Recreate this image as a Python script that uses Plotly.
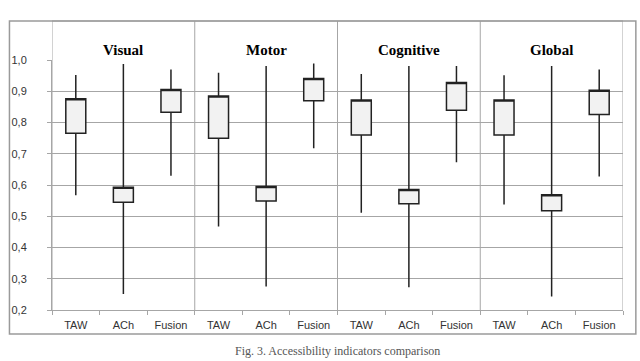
import plotly.graph_objects as go

groups = ["Visual", "Motor", "Cognitive", "Global"]
methods = ["TAW", "ACh", "Fusion"]

# high / box top / box bottom / low (group by group)
high = [0.952, 0.987, 0.970,  0.959, 0.981, 0.989,  0.955, 0.981, 0.981,  0.951, 0.981, 0.970]
box_top = [0.876, 0.593, 0.906,  0.885, 0.595, 0.941,  0.872, 0.586, 0.928,  0.872, 0.569, 0.903]
box_bottom = [0.766, 0.545, 0.833,  0.750, 0.549, 0.870,  0.760, 0.540, 0.839,  0.760, 0.518, 0.826]
low = [0.567, 0.251, 0.630,  0.467, 0.275, 0.718,  0.511, 0.273, 0.673,  0.538, 0.243, 0.627]

y_ticks = [0.2, 0.3, 0.4, 0.5, 0.6, 0.7, 0.8, 0.9, 1.0]
caption = "Fig. 3. Accessibility indicators comparison"

x_pos = list(range(len(groups) * len(methods)))
x_labels = methods * len(groups)

fig = go.Figure()
fig.add_trace(go.Box(
    x=x_pos,
    q1=box_bottom,
    median=box_top,
    q3=box_top,
    lowerfence=low,
    upperfence=high,
    width=0.42,
    whiskerwidth=0,
    fillcolor="#f2f2f2",
    line=dict(color="#222222", width=1.5),
    showlegend=False,
    hoverinfo="skip",
))

grid = "#a6a6a6"
shapes = []
n = len(methods)
# header strip + panel separators
for g in range(len(groups) + 1):
    xv = g * n - 0.5
    shapes.append(dict(type="line", xref="x", yref="paper", x0=xv, x1=xv, y0=0, y1=1.156,
                       line=dict(color=grid, width=1)))
shapes.append(dict(type="line", xref="paper", yref="paper", x0=0, x1=1, y0=1.156, y1=1.156,
                   line=dict(color=grid, width=1)))
# outer frame
shapes.append(dict(type="rect", xref="paper", yref="paper", x0=-0.0745, x1=1.0225, y0=-0.096, y1=1.156,
                   line=dict(color="#9a9a9a", width=1.5)))

annotations = []
for g, name in enumerate(groups):
    annotations.append(dict(x=g * n + 1, y=1.08, xref="x", yref="paper", text=f"<b>{name}</b>",
                            showarrow=False, font=dict(family="Liberation Serif", size=15, color="#000")))
annotations.append(dict(x=0.5, y=-0.2, xref="paper", yref="paper", text=caption, yanchor="bottom",
                        showarrow=False, font=dict(family="Liberation Serif", size=12, color="#555")))

fig.update_layout(
    width=640, height=361,
    margin=dict(l=46, r=17, t=60, b=51),
    paper_bgcolor="white", plot_bgcolor="white",
    separators=", ",
    shapes=shapes,
    annotations=annotations,
    font=dict(family="Liberation Sans", size=11, color="#333"),
)
fig.update_xaxes(
    range=[-0.5, len(x_pos) - 0.5],
    tickvals=x_pos, ticktext=x_labels, ticks="",
    showgrid=False, zeroline=False,
    showline=True, linecolor=grid, linewidth=1,
    minor=dict(ticks="outside", tick0=0.5, dtick=1, ticklen=4, tickcolor=grid, showgrid=False),
    ticklabelstandoff=5,
    tickfont=dict(size=11, color="#333"),
)
fig.update_yaxes(
    range=[0.2, 1.0], tickvals=y_ticks, tickformat=".1f",
    showgrid=True, gridcolor=grid, gridwidth=1,
    zeroline=False, showline=True, linecolor=grid, linewidth=1,
    ticks="outside", ticklen=4, tickcolor=grid, ticklabelstandoff=18,
    tickfont=dict(size=11, color="#333"),
)

fig.write_html("out.html", config={"displayModeBar": False},
               post_script="document.body.style.margin='0';")
